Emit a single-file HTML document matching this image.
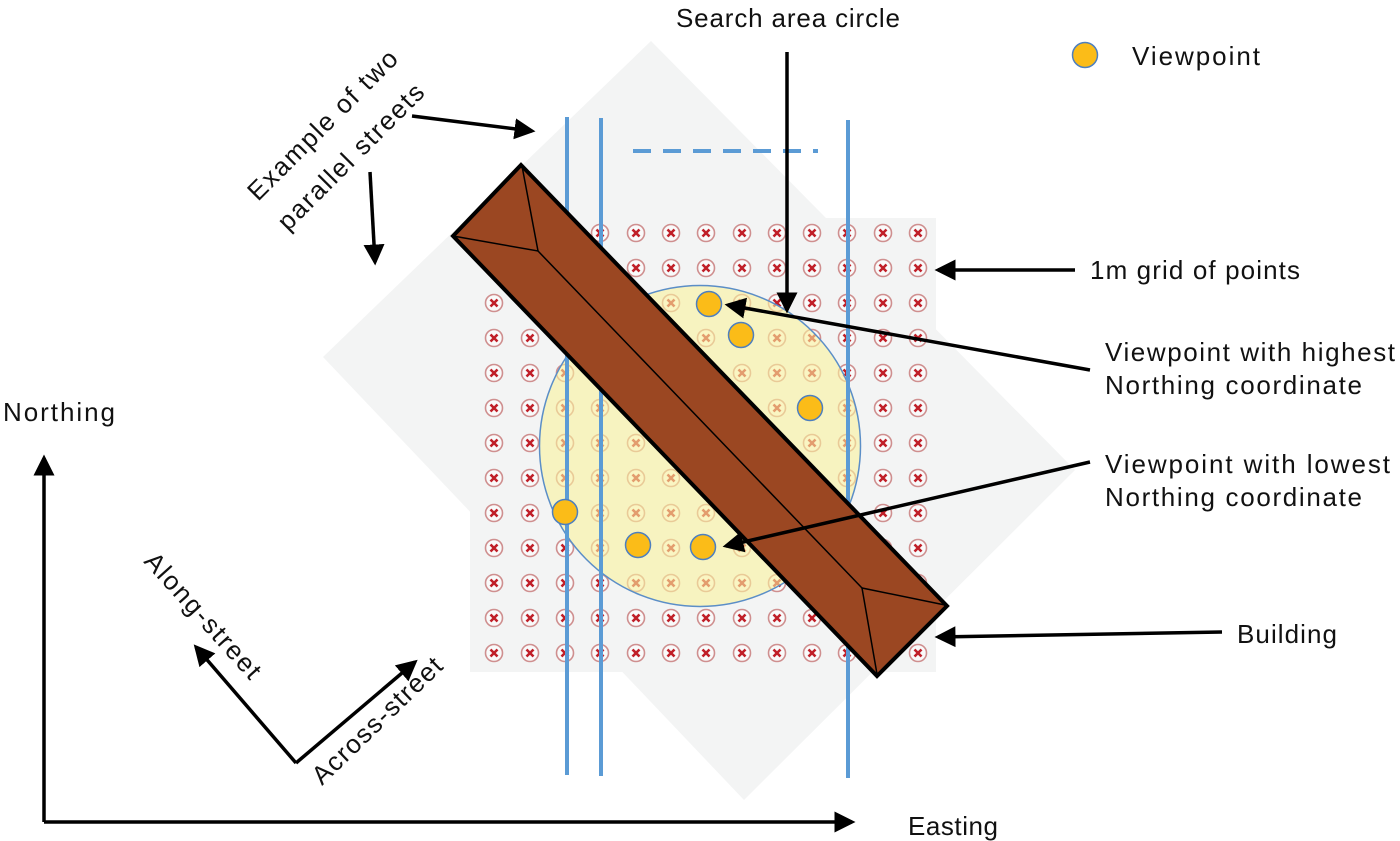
<!DOCTYPE html>
<html><head><meta charset="utf-8"><style>
html,body{margin:0;padding:0;background:#fff;}
svg{display:block;}
text{font-family:"Liberation Sans",sans-serif;font-size:26px;fill:#111;}
</style></head><body>
<svg width="1400" height="841" viewBox="0 0 1400 841" xmlns="http://www.w3.org/2000/svg">
<defs>
<marker id="ah" markerWidth="7" markerHeight="7" refX="5" refY="3.5" orient="auto" markerUnits="strokeWidth">
<path d="M0,0.5 L6,3.5 L0,6.5 z" fill="#000"/>
</marker>
<g id="m"><circle r="8.5" fill="#fff" fill-opacity="0.5" stroke="#cf8f8f" stroke-width="1.6"/><path d="M-3.5,-3.5 L3.5,3.5 M3.5,-3.5 L-3.5,3.5" stroke="#c01f28" stroke-width="2.6"/></g>
<g id="row">
<use href="#m" x="494"/><use href="#m" x="530"/><use href="#m" x="565"/><use href="#m" x="600"/><use href="#m" x="636"/><use href="#m" x="671"/><use href="#m" x="706"/><use href="#m" x="742"/><use href="#m" x="777"/><use href="#m" x="812"/><use href="#m" x="847"/><use href="#m" x="883"/><use href="#m" x="918"/>
</g>
</defs>
<polygon points="651,41 1075,470 744,800 323,357" fill="#f3f4f4"/>
<rect x="470" y="218" width="466" height="454" fill="#f3f4f4"/>
<use href="#row" y="233"/><use href="#row" y="268"/><use href="#row" y="303"/><use href="#row" y="338"/><use href="#row" y="373"/><use href="#row" y="408"/><use href="#row" y="443"/><use href="#row" y="478"/><use href="#row" y="513"/><use href="#row" y="548"/><use href="#row" y="583"/><use href="#row" y="618"/><use href="#row" y="653"/>
<circle cx="700" cy="446" r="160.5" fill="#faf29c" fill-opacity="0.6" stroke="#5b8ec7" stroke-width="1.5"/>
<g stroke="#5b9bd5" stroke-width="4">
<line x1="567" y1="117" x2="567" y2="775"/>
<line x1="601" y1="118" x2="601" y2="776"/>
<line x1="848" y1="120" x2="848" y2="778"/>
<line x1="633" y1="151" x2="818" y2="151" stroke-dasharray="18 12"/>
</g>
<polygon points="453,236 521,165 947,606 877,676" fill="#9b4722" stroke="#000" stroke-width="4"/>
<g stroke="#000" stroke-width="1.5" fill="none">
<polyline points="453,236 538,251 522,166"/>
<line x1="538" y1="251" x2="862" y2="588"/>
<polyline points="945,605 862,588 877,674"/>
</g>
<g fill="#fbbc18" stroke="#4d7fbf" stroke-width="1.5">
<circle cx="709" cy="304" r="12.5"/><circle cx="741" cy="335" r="12.5"/><circle cx="810" cy="408" r="12.5"/>
<circle cx="565" cy="512" r="12.5"/><circle cx="638" cy="545" r="12.5"/><circle cx="703" cy="547" r="12.5"/>
<circle cx="1085" cy="55" r="12.5"/>
</g>
<g stroke="#000" stroke-width="3.5" fill="none" marker-end="url(#ah)">
<line x1="787" y1="52" x2="787" y2="310"/>
<line x1="1075" y1="270" x2="938" y2="270"/>
<line x1="1090" y1="370" x2="728" y2="305"/>
<line x1="1090" y1="462" x2="726" y2="546"/>
<line x1="1222" y1="632" x2="938" y2="637"/>
<line x1="412" y1="116" x2="532" y2="131"/>
<line x1="370" y1="172" x2="375" y2="262"/>
<line x1="44" y1="822" x2="44" y2="458"/>
<line x1="44" y1="822" x2="852" y2="822"/>
<line x1="296" y1="763" x2="196" y2="647"/>
<line x1="296" y1="763" x2="415" y2="662"/>
</g>
<text x="676" y="27" textLength="224">Search area circle</text>
<text x="1132" y="65" textLength="128">Viewpoint</text>
<text x="1090" y="279" textLength="210">1m grid of points</text>
<text x="1105" y="361" textLength="290">Viewpoint with highest</text>
<text x="1105" y="394" textLength="257">Northing coordinate</text>
<text x="1105" y="473" textLength="285">Viewpoint with lowest</text>
<text x="1105" y="506" textLength="257">Northing coordinate</text>
<text x="1237" y="643" textLength="100">Building</text>
<text x="3" y="421" textLength="112">Northing</text>
<text x="908" y="835" textLength="90">Easting</text>
<text transform="translate(258,202) rotate(-45)" textLength="200">Example of two</text>
<text transform="translate(288,232) rotate(-45)" textLength="195">parallel streets</text>
<text transform="translate(143,562) rotate(48)" textLength="160">Along-street</text>
<text transform="translate(322,786) rotate(-44)" textLength="170">Across-street</text>
</svg>
</body></html>
